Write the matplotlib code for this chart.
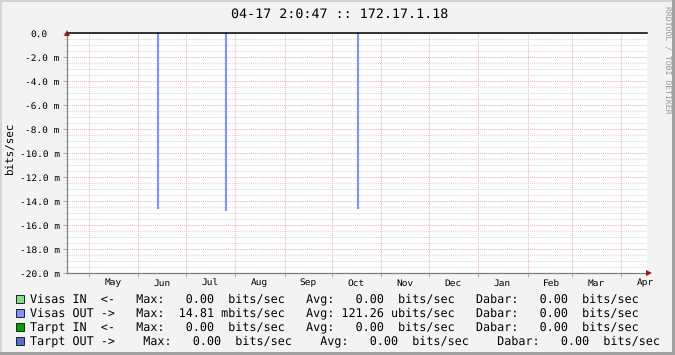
import matplotlib
matplotlib.use("Agg")
import matplotlib.pyplot as plt
import matplotlib.dates as mdates
from matplotlib.patches import Rectangle
from matplotlib.ticker import MultipleLocator, FuncFormatter
import datetime as dt

plt.rcParams["text.hinting"] = "no_hinting"

# ---------------- data ----------------
title = "04-17 2:0:47 :: 172.17.1.18"
y_label = "bits/sec"
watermark = "RRDTOOL / TOBI OETIKER"
range_start = dt.datetime(2009, 4, 17, 2, 0, 47)
range_end = dt.datetime(2010, 4, 17, 2, 0, 47)

# Visas OUT spikes (bits/sec), drawn downward
spike_dates = [dt.datetime(2009, 6, 13, 12), dt.datetime(2009, 7, 26, 0), dt.datetime(2009, 10, 17, 12)]
spike_values = [0.01470, 0.01481, 0.01468]

y_min, y_max = -0.020, 0.0

legend_names = ["Visas IN  <-", "Visas OUT ->", "Tarpt IN  <-", "Tarpt OUT ->"]
legend_colors = ["#80E080", "#8090FF", "#00A000", "#5070C8"]
max_vals = ["0.00", "14.81", "0.00", "0.00"]
max_units = [" bits/sec", "mbits/sec", " bits/sec", " bits/sec"]
avg_vals = ["0.00", "121.26", "0.00", "0.00"]
avg_units = [" bits/sec", "ubits/sec", " bits/sec", " bits/sec"]
cur_vals = ["0.00", "0.00", "0.00", "0.00"]
cur_units = [" bits/sec", " bits/sec", " bits/sec", " bits/sec"]
gaps = [3, 3, 3, 4]

# ---------------- figure ----------------
W, H = 675, 355
BG = "#F3F3F3"
MONO = "DejaVu Sans Mono"
fig = plt.figure(figsize=(W / 100, H / 100), dpi=100, facecolor=BG)

def px_rect(x, y, w, h, color):
    fig.patches.append(Rectangle((x / W, 1 - (y + h) / H), w / W, h / H,
                                 transform=fig.transFigure, facecolor=color,
                                 edgecolor="none", zorder=-5))
px_rect(0, 0, W, 2, "#D4D4D4")
px_rect(0, 0, 2, H, "#D4D4D4")
px_rect(0, H - 3, W, 3, "#A0A0A0")
px_rect(W - 3, 0, 3, H, "#A0A0A0")

ax = fig.add_axes([67 / W, 82 / H, 580 / W, 240 / H])
ax.set_facecolor("white")

# spikes
neg_values = [-v for v in spike_values]
ax.vlines(spike_dates, neg_values, [0] * len(spike_values), colors=legend_colors[1],
          linewidth=1.5, zorder=3)
ax.axhline(0, color="black", linewidth=1.1, zorder=4, clip_on=False)

ax.set_xlim(range_start, range_end)
ax.set_ylim(y_min, y_max)

# y axis
ax.yaxis.set_major_locator(MultipleLocator(0.002))
ax.yaxis.set_minor_locator(MultipleLocator(0.0005))
def yfmt(v, pos):
    m = v * 1000
    if abs(m) < 1e-9:
        return "0.0"
    return f"{m:.1f} m"
ax.yaxis.set_major_formatter(FuncFormatter(yfmt))
ax.tick_params(axis="y", which="major", direction="out", length=3, width=0.8,
               color="#E0A0A0", pad=2.2, labelsize=6.8, labelcolor="black")
ax.tick_params(axis="y", which="minor", direction="out", length=2, width=0.6,
               color="#D8D8D8")
for lab in ax.get_yticklabels():
    lab.set_family(MONO)

# x axis
ax.xaxis.set_major_locator(mdates.MonthLocator(bymonthday=1))
ax.xaxis.set_minor_locator(mdates.MonthLocator(bymonthday=16))
ax.xaxis.set_major_formatter(plt.NullFormatter())
ax.xaxis.set_minor_formatter(mdates.DateFormatter("%b"))
ax.tick_params(axis="x", which="major", direction="out", length=3, width=0.8,
               color="#E0A0A0")
ax.tick_params(axis="x", which="minor", length=0, pad=4, labelsize=6.8)
for lab in ax.get_xticklabels(minor=True):
    lab.set_family(MONO)

# grids
dot = (0, (1, 1))
ax.xaxis.grid(True, which="major", color="#EBB4B4", linestyle=dot, linewidth=0.75)
ax.yaxis.grid(True, which="major", color="#EBB4B4", linestyle=dot, linewidth=0.75)
ax.yaxis.grid(True, which="minor", color="#D8D8D8", linestyle=dot, linewidth=0.75)
ax.set_axisbelow(True)

for s in ["top", "right"]:
    ax.spines[s].set_visible(False)
for s in ["left", "bottom"]:
    ax.spines[s].set_color("#808080")
    ax.spines[s].set_linewidth(0.9)

# arrows
ax.plot([0], [1.0], marker="^", markersize=5, color="#8B1A1A", transform=ax.transAxes,
        clip_on=False, zorder=6, markeredgewidth=0)
ax.plot([1.004], [0], marker=">", markersize=5, color="#8B1A1A", transform=ax.transAxes,
        clip_on=False, zorder=6, markeredgewidth=0)

# shift zero label to mimic trailing unit space
fig.canvas.draw()
locs = list(ax.yaxis.get_majorticklocs())
ticks = ax.yaxis.get_major_ticks(len(locs))
for t, loc in zip(ticks, locs):
    if abs(loc) < 1e-12:
        t.set_pad(2.2 + 8.6)

# texts
fig.text(340 / W, 1 - 14 / H, title, ha="center", va="center", fontsize=9.6,
         family=MONO, color="black")
fig.text(10 / W, 1 - 148 / H, y_label, ha="center", va="center", rotation=90,
         fontsize=7.8, family=MONO)
fig.text(667 / W, 1 - 60 / H, watermark, ha="center", va="center", rotation=270,
         fontsize=5.9, family=MONO, color="#999999")

# legend
row_y = [299, 313, 327, 341]
for i in range(4):
    g = " " * gaps[i]
    line = (f"{legend_names[i]}{g}Max: {max_vals[i]:>6} {max_units[i]}{g}"
            f"Avg: {avg_vals[i]:>6} {avg_units[i]}{g}"
            f"Dabar: {cur_vals[i]:>6} {cur_units[i]}")
    fig.patches.append(Rectangle((15.5 / W, 1 - (row_y[i] + 4) / H), 8 / W, 8 / H,
                                 transform=fig.transFigure, facecolor=legend_colors[i],
                                 edgecolor="#202020", linewidth=0.7))
    fig.text(30 / W, 1 - row_y[i] / H, line, ha="left", va="center", fontsize=8.5,
             family=MONO, color="black")

fig.savefig("out.png", dpi=100, facecolor=BG)
